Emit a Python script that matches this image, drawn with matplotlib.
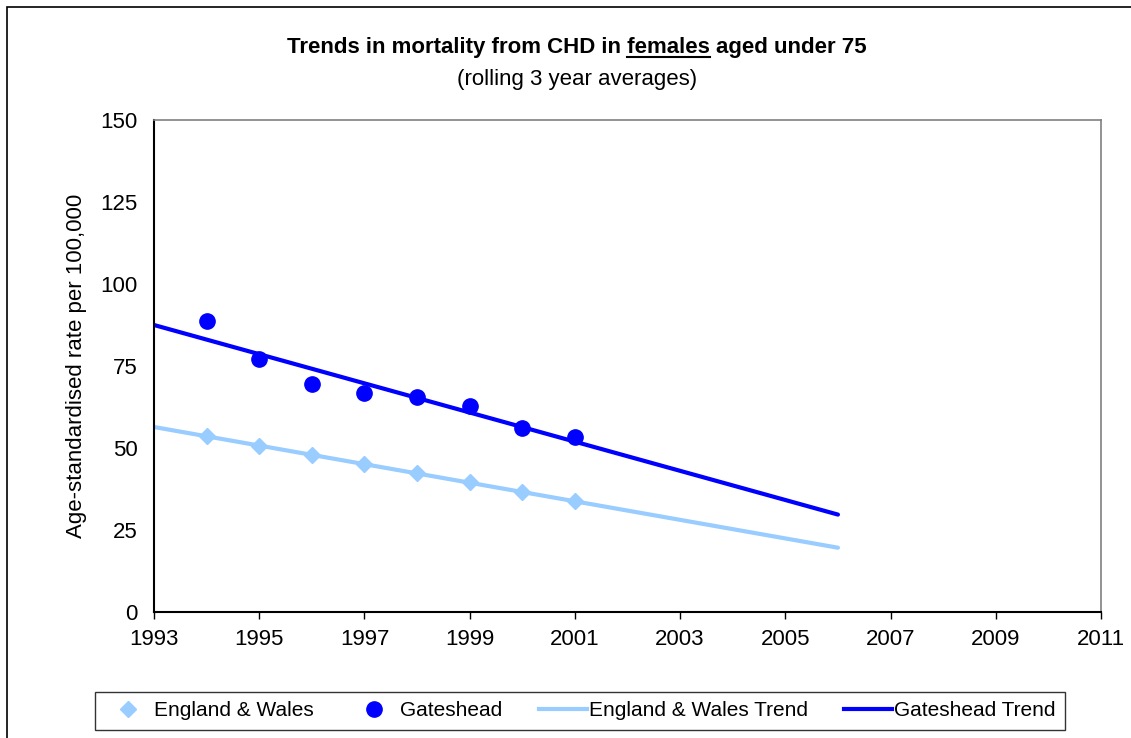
import matplotlib
matplotlib.use("Agg")
import matplotlib.pyplot as plt
from matplotlib.lines import Line2D
from matplotlib.patches import Rectangle

plt.rcParams['font.family'] = ['Liberation Sans', 'DejaVu Sans']

# --- data ---
years = [1994, 1995, 1996, 1997, 1998, 1999, 2000, 2001]
england_wales = [53.7, 50.6, 47.9, 45.1, 42.4, 39.6, 36.6, 33.8]
gateshead = [88.7, 77.1, 69.5, 66.8, 65.5, 62.8, 56.1, 53.4]

trend_years = [1993, 2006]
england_wales_trend = [56.4, 19.6]
gateshead_trend = [87.5, 29.7]

x_ticks = list(range(1993, 2012, 2))
y_ticks = [0, 25, 50, 75, 100, 125, 150]

c_ew = '#99CCFF'
c_gh = '#0000FF'
fs = 16

W, H = 1131, 738
fig = plt.figure(figsize=(W / 100, H / 100), dpi=100)
ax = fig.add_axes([154 / W, 1 - 612 / H, (1101 - 154) / W, (612 - 120) / H])

ax.plot(trend_years, england_wales_trend, color=c_ew, lw=3, solid_capstyle='round', zorder=2)
ax.plot(trend_years, gateshead_trend, color=c_gh, lw=3, solid_capstyle='round', zorder=2)
ax.plot(years, england_wales, ls='none', marker='D', ms=8, color=c_ew, zorder=3)
ax.plot(years, gateshead, ls='none', marker='o', ms=11, color=c_gh, zorder=3)

ax.set_xlim(1993, 2011)
ax.set_ylim(0, 150)
ax.set_xticks(x_ticks)
ax.set_yticks(y_ticks)
ax.tick_params(axis='x', direction='out', length=5, width=1, labelsize=fs, pad=7)
ax.tick_params(axis='y', length=0, labelsize=fs, pad=12)
for side in ['left', 'bottom']:
    ax.spines[side].set_color('black')
    ax.spines[side].set_linewidth(1.5)
for side in ['top', 'right']:
    ax.spines[side].set_color('#808080')
    ax.spines[side].set_linewidth(1.2)

ax.set_ylabel('Age-standardised rate per 100,000', fontsize=fs)
ax.yaxis.set_label_coords(-0.071, 0.5)

# outer chart border (runs off the right and bottom edges)
fig.patches.append(Rectangle((7 / W, -0.1), 1.2, 1 - 7 / H + 0.1, transform=fig.transFigure,
                             fill=False, edgecolor='black', lw=1.2))

# title with underlined word
title_y = 1 - 48 / H
full = 'Trends in mortality from CHD in females aged under 75'
t = fig.text(0.51, title_y, full, ha='center', va='center', fontsize=fs, fontweight='bold')
fig.text(0.51, 1 - 79 / H, '(rolling 3 year averages)', ha='center', va='center', fontsize=fs)

fig.canvas.draw()
r = fig.canvas.get_renderer()
bb = t.get_window_extent(r)
tmp1 = fig.text(0, 0, 'Trends in mortality from CHD in females', fontsize=fs, fontweight='bold')
tmp2 = fig.text(0, 0, 'females', fontsize=fs, fontweight='bold')
w1 = tmp1.get_window_extent(r).width
w2 = tmp2.get_window_extent(r).width
tmp1.remove()
tmp2.remove()
x_end = bb.x0 + w1
x_start = x_end - w2
uy = bb.y0 + 2
fig.add_artist(Line2D([x_start / W, x_end / W], [uy / H, uy / H], transform=fig.transFigure,
                      color='black', lw=1.5))

handles = [
    Line2D([], [], ls='none', marker='D', ms=8, color=c_ew),
    Line2D([], [], ls='none', marker='o', ms=11, color=c_gh),
    Line2D([], [], color=c_ew, lw=3),
    Line2D([], [], color=c_gh, lw=3),
]
labels = ['England & Wales', 'Gateshead', 'England & Wales Trend', 'Gateshead Trend']
leg = fig.legend(handles, labels, ncol=4, loc='center',
                 bbox_to_anchor=(580 / W, 1 - 711 / H), fontsize=15,
                 frameon=True, fancybox=False, edgecolor='black', handlelength=2.3,
                 handletextpad=0.1, columnspacing=1.75, borderpad=0.45)
leg.get_frame().set_linewidth(1.0)

fig.savefig('out.png', dpi=100)
